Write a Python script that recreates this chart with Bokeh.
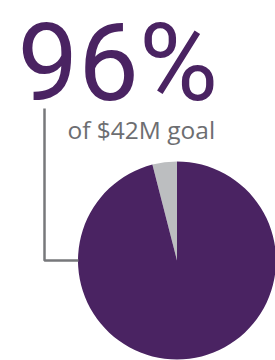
import numpy as np
from bokeh.plotting import figure
from bokeh.models import Range1d, ColumnDataSource
from bokeh.core.properties import value
from bokeh.embed import file_html
from bokeh.resources import INLINE

# Data
labels = ["Raised", "Remaining"]
percents = [96, 4]
colors = ["#4a2362", "#bcbec0"]
headline = "96%"
subtitle = "of $42M goal"

W, H = 275, 360
p = figure(width=W, height=H, output_backend="svg", toolbar_location=None,
           x_range=Range1d(0, W), y_range=Range1d(0, H), min_border=0)
p.axis.visible = False
p.grid.visible = False
p.outline_line_color = None
p.background_fill_color = "white"
p.border_fill_color = "white"

def sy(y):  # screen y -> data y
    return H - y

# pie: gray slice counterclockwise from top, purple the rest
fr = np.array(percents[::-1], dtype=float) / sum(percents)  # remaining first
ends = np.pi / 2 + np.cumsum(fr) * 2 * np.pi
starts = np.concatenate([[np.pi / 2], ends[:-1]])
src = ColumnDataSource(dict(label=labels[::-1], start=starts, end=ends, color=colors[::-1]))
cx, cy, r = 176.5, sy(260), 99
p.wedge(x=cx, y=cy, radius=r, radius_units="screen", start_angle="start", end_angle="end",
        color="color", line_color=None, source=src)

# connector line
p.line(x=[44, 44, 78], y=[sy(108), sy(260), sy(260)], line_color="#77787b", line_width=2.5)

p.text(x=[17], y=[sy(62)], text=[headline], text_font=value("Roboto"),
       text_font_size="108px", text_color="#4a2362", text_baseline="alphabetic", text_align="left")
p.text(x=[67], y=[sy(129)], text=[subtitle], text_font=value("Open Sans"),
       text_font_size="24.5px", text_color="#6d6e71", text_baseline="alphabetic", text_align="left")

open("out.html", "w").write(file_html(p, INLINE))
